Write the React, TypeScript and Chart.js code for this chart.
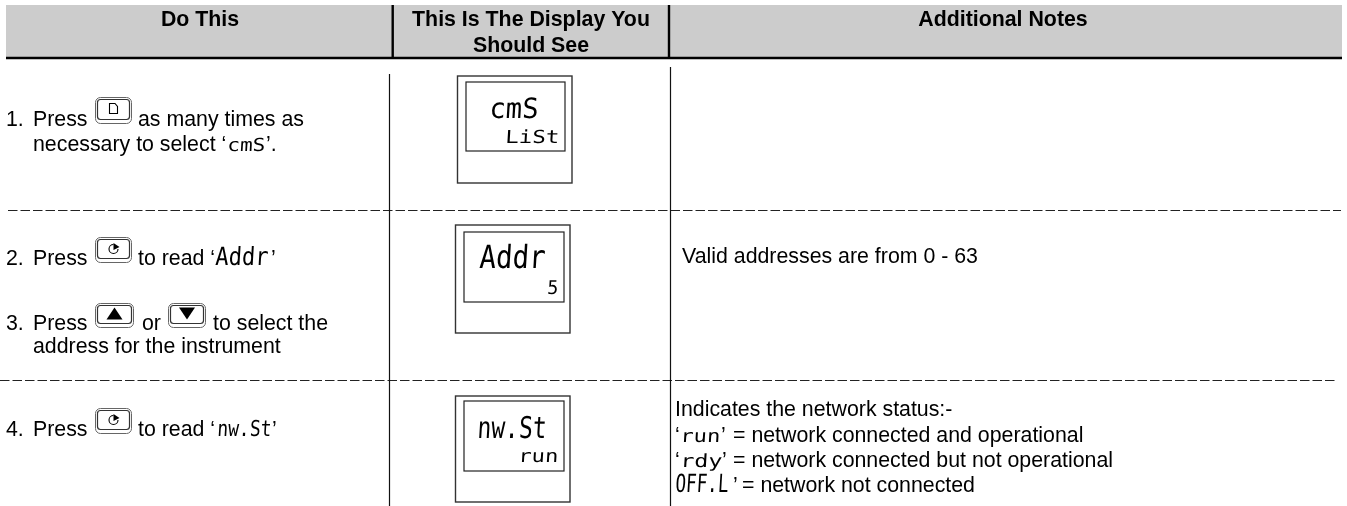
import React, { useEffect, useRef } from "react";
import { Chart, registerables } from "chart.js";

Chart.register(...registerables);

const W = 1347;
const H = 506;
const SANS = '"Liberation Sans", Arial, sans-serif';
const LCD = '"DejaVu Sans Mono", monospace';
const BODY = 21.33;
const HEAD = 21.33;
const HEADER_RIGHT = 1342;

// header cells
const headerLabels = [
  { lines: ["Do This"], cx: 200 },
  { lines: ["This Is The Display You", "Should See"], cx: 531 },
  { lines: ["Additional Notes"], cx: 1003 },
];
const headerBaselines = [26, 52];

// table rules
const heavyRules = [
  { pts: [[392.7, 5], [392.7, 57]] },
  { pts: [[669, 5], [669, 57]] },
  { pts: [[6, 58], [HEADER_RIGHT, 58]] },
];
const thinRules = [
  { pts: [[389.5, 74], [389.5, 506]] },
  { pts: [[670.5, 67], [670.5, 506]] },
];
const dashedRules = [
  { pts: [[8, 210.5], [1341, 210.5]] },
  { pts: [[0, 380.5], [1337, 380.5]] },
];

// instrument displays
const displays = [
  { outer: [457.5, 76, 572, 183], inner: [466, 82, 565, 151] },
  { outer: [455.5, 225, 570, 333], inner: [464, 232, 564, 302] },
  { outer: [455.5, 396, 570, 502], inner: [464, 401, 564, 471] },
];
const displayText = [
  { text: "cmS", x0: 489, x1: 538, y: 118, size: 28 },
  { text: "LiSt", x0: 505, x1: 559, y: 143, size: 18 },
  { text: "Addr", x0: 479, x1: 545, y: 268, size: 32 },
  { text: "5", x0: 547, x1: 558, y: 294, size: 19 },
  { text: "nw.St", x0: 477, x1: 546, y: 438, size: 30 },
  { text: "run", x0: 518, x1: 558, y: 462, size: 18 },
];

// instruction and note text: plain runs and display-style runs
type Run = { t: string; x: number; x1?: number; size?: number };
const textLines: { y: number; runs: Run[] }[] = [
  { y: 126, runs: [{ t: "1.", x: 6 }, { t: "Press", x: 33 }, { t: "as many times as", x: 138 }] },
  { y: 151, runs: [{ t: "necessary to select ‘", x: 33 }, { t: "cmS", x: 227, x1: 265, size: 18 }, { t: "’.", x: 266 }] },
  { y: 265, runs: [{ t: "2.", x: 6 }, { t: "Press", x: 33 }, { t: "to read ‘", x: 138 }, { t: "Addr", x: 215, x1: 268, size: 25 }, { t: "’", x: 271 }] },
  { y: 330, runs: [{ t: "3.", x: 6 }, { t: "Press", x: 33 }, { t: "or", x: 142 }, { t: "to select the", x: 213 }] },
  { y: 353, runs: [{ t: "address for the instrument", x: 33 }] },
  { y: 436, runs: [{ t: "4.", x: 6 }, { t: "Press", x: 33 }, { t: "to read ‘", x: 138 }, { t: "nw.St", x: 217, x1: 271, size: 22 }, { t: "’", x: 272 }] },
  { y: 263, runs: [{ t: "Valid addresses are from 0 - 63", x: 682 }] },
  { y: 416, runs: [{ t: "Indicates the network status:-", x: 675 }] },
  { y: 442, runs: [{ t: "‘", x: 675 }, { t: "run", x: 680, x1: 720, size: 18 }, { t: "’", x: 721 }, { t: "= network connected and operational", x: 733 }] },
  { y: 467, runs: [{ t: "‘", x: 675 }, { t: "rdy", x: 680, x1: 722, size: 18 }, { t: "’", x: 722 }, { t: "= network connected but not operational", x: 733 }] },
  { y: 492, runs: [{ t: "OFF.L", x: 675, x1: 728, size: 25 }, { t: "’", x: 733 }, { t: "= network not connected", x: 742 }] },
];

// instrument keys
const keys = [
  { box: [95, 97, 132, 124], kind: "page" },
  { box: [95, 237, 132, 263], kind: "scroll" },
  { box: [95, 303, 134, 328], kind: "up" },
  { box: [168, 303, 206, 328], kind: "down" },
  { box: [95, 408, 132, 434], kind: "scroll" },
];

const lineSet = (r: { pts: number[][] }, width: number, color = "#000", dash: number[] = []) => ({
  data: r.pts.map(([x, y]) => ({ x, y })),
  showLine: true,
  pointRadius: 0,
  borderColor: color,
  borderWidth: width,
  borderDash: dash,
});

const tablePlugin = {
  id: "table",
  beforeDatasetsDraw(chart: any) {
    const { ctx, scales } = chart;
    const X = (v: number) => scales.x.getPixelForValue(v);
    const Y = (v: number) => scales.y.getPixelForValue(v);
    ctx.save();
    ctx.fillStyle = "#cccccc";
    ctx.fillRect(X(6), Y(5), X(HEADER_RIGHT) - X(6), Y(57) - Y(5));
    ctx.restore();
  },
  afterDatasetsDraw(chart: any) {
    const { ctx, scales } = chart;
    const X = (v: number) => scales.x.getPixelForValue(v);
    const Y = (v: number) => scales.y.getPixelForValue(v);
    ctx.save();
    ctx.textBaseline = "alphabetic";
    ctx.fillStyle = "#000";

    ctx.textAlign = "center";
    ctx.font = `bold ${HEAD}px ${SANS}`;
    headerLabels.forEach((h) =>
      h.lines.forEach((l, i) => ctx.fillText(l, X(h.cx), Y(headerBaselines[i])))
    );

    ctx.textAlign = "left";
    const lcd = (t: string, x0: number, x1: number, y: number, size: number) => {
      ctx.save();
      ctx.font = `${size}px ${LCD}`;
      const sx = (x1 - x0) / ctx.measureText(t).width;
      ctx.transform(sx, 0, -0.06, 1, X(x0), Y(y));
      ctx.fillText(t, 0, 0);
      ctx.restore();
    };
    textLines.forEach((line) =>
      line.runs.forEach((r) => {
        if (r.x1 !== undefined) lcd(r.t, r.x, r.x1, line.y, r.size ?? 18);
        else {
          ctx.font = `${BODY}px ${SANS}`;
          ctx.fillText(r.t, X(r.x), Y(line.y));
        }
      })
    );

    displays.forEach((d) => {
      ctx.strokeStyle = "#333";
      ctx.lineWidth = 1.4;
      ctx.strokeRect(X(d.outer[0]), Y(d.outer[1]), d.outer[2] - d.outer[0], d.outer[3] - d.outer[1]);
      ctx.strokeStyle = "#222";
      ctx.lineWidth = 1.2;
      ctx.strokeRect(X(d.inner[0]), Y(d.inner[1]), d.inner[2] - d.inner[0], d.inner[3] - d.inner[1]);
    });
    displayText.forEach((d) => lcd(d.text, d.x0, d.x1, d.y, d.size));

    keys.forEach((k) => {
      const [x0, y0, x1, y1] = k.box.map((v, i) => (i % 2 ? Y(v) : X(v)));
      ctx.strokeStyle = "#666";
      ctx.lineWidth = 1;
      ctx.beginPath();
      ctx.roundRect(x0 + 0.5, y0 + 0.5, x1 - x0 - 1, y1 - y0 - 1, 5);
      ctx.stroke();
      ctx.strokeStyle = "#333";
      ctx.lineWidth = 1.2;
      ctx.beginPath();
      ctx.roundRect(x0 + 2.5, y0 + 2.5, x1 - x0 - 5, y1 - y0 - 7, 3);
      ctx.stroke();
      const cx = (x0 + x1) / 2;
      const cy = (y0 + y1) / 2 - 2;
      ctx.fillStyle = "#000";
      ctx.strokeStyle = "#000";
      ctx.lineWidth = 1.1;
      if (k.kind === "page") {
        ctx.beginPath();
        ctx.moveTo(cx - 4, cy - 5);
        ctx.lineTo(cx + 1.5, cy - 5);
        ctx.lineTo(cx + 4, cy - 2);
        ctx.lineTo(cx + 4, cy + 5);
        ctx.lineTo(cx - 4, cy + 5);
        ctx.closePath();
        ctx.stroke();
      } else if (k.kind === "scroll") {
        ctx.beginPath();
        ctx.arc(cx, cy + 1, 4.5, 0, Math.PI * 1.5);
        ctx.stroke();
        ctx.beginPath();
        ctx.moveTo(cx, cy - 5);
        ctx.lineTo(cx + 6, cy - 1);
        ctx.lineTo(cx, cy + 2);
        ctx.closePath();
        ctx.fill();
      } else {
        const dir = k.kind === "up" ? -1 : 1;
        ctx.beginPath();
        ctx.moveTo(cx - 8, cy - dir * 6);
        ctx.lineTo(cx + 8, cy - dir * 6);
        ctx.lineTo(cx, cy + dir * 6);
        ctx.closePath();
        ctx.fill();
      }
    });
    ctx.restore();
  },
};

export default function App() {
  const ref = useRef<HTMLCanvasElement>(null);
  useEffect(() => {
    const chart = new Chart(ref.current!, {
      type: "scatter",
      data: {
        datasets: [
          ...heavyRules.map((r) => lineSet(r, 2.4)),
          ...thinRules.map((r) => lineSet(r, 1.2, "#111")),
          ...dashedRules.map((r) => lineSet(r, 1.2, "#222", [9.5, 3])),
        ],
      },
      options: {
        animation: false,
        responsive: false,
        layout: { padding: 0 },
        plugins: { legend: { display: false }, tooltip: { enabled: false } },
        scales: {
          x: { type: "linear", min: 0, max: W, display: false },
          y: { type: "linear", min: 0, max: H, reverse: true, display: false },
        },
      },
      plugins: [tablePlugin],
    } as any);
    return () => chart.destroy();
  }, []);
  return (
    <canvas
      ref={ref}
      width={W}
      height={H}
      style={{ position: "absolute", left: 0, top: 0, width: W, height: H, display: "block" }}
    />
  );
}
